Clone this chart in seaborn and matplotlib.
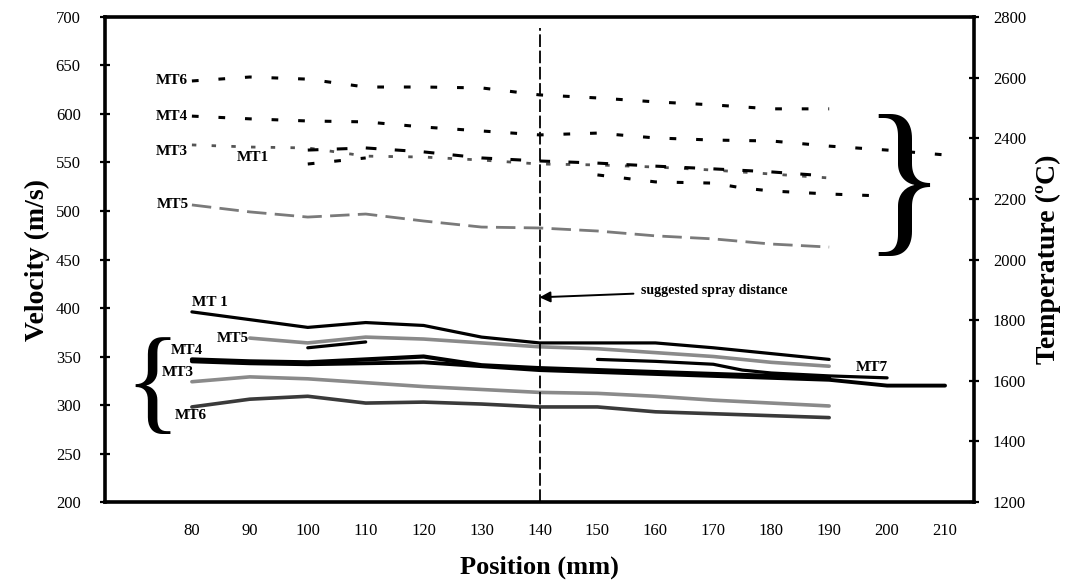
import numpy as np
import matplotlib
matplotlib.use("Agg")
import matplotlib.pyplot as plt
import seaborn as sns

# Measurement positions along the jet (mm)
pos = [80, 90, 100, 110, 120, 130, 140, 150, 160, 170, 180, 190]
pos_long = [80, 90, 100, 110, 120, 130, 140, 150, 160, 170, 180, 190, 200, 210]
pos_from90 = [90, 100, 110, 120, 130, 140, 150, 160, 170, 180, 190]
pos_from100 = [100, 110, 120, 130, 140, 150, 160, 170, 180, 190]
pos_short_a = [100, 110]
pos_short_b = [150, 160, 170, 175, 180, 190, 200]

# Particle velocity (m/s) - solid lines, left axis
mt1_vel = [396, 388, 380, 385, 382, 370, 364, 364, 364, 359, 353, 347]
mt5_vel = [369, 364, 370, 368, 364, 360, 358, 354, 350, 344, 340]
mt4_vel = [347, 345, 344, 347, 350, 341, 338, 336, 334, 332, 330, 328]
mt7_vel = [345, 343, 342, 343, 344, 340, 336, 334, 332, 330, 328, 326, 320, 320]
mt3_vel = [324, 329, 327, 323, 319, 316, 313, 312, 309, 305, 302, 299]
mt6_vel = [298, 306, 309, 302, 303, 301, 298, 298, 293, 291, 289, 287]
# unlabelled run with a gap between 110 and 150 mm
short_vel_a = [359, 365]
short_vel_b = [347, 345, 342, 336, 333, 330, 328]

# Particle temperature (oC) - dashed lines, right axis
mt6_temp = [2589, 2602, 2595, 2569, 2569, 2566, 2543, 2533, 2520, 2510, 2497, 2497]
mt4_temp = [2473, 2464, 2457, 2454, 2437, 2424, 2411, 2417, 2401, 2394, 2391, 2374, 2361, 2345]
mt3_temp = [2378, 2371, 2368, 2341, 2338, 2328, 2315, 2312, 2305, 2295, 2282, 2269]
mt1_temp = [2361, 2368, 2355, 2335, 2325, 2318, 2308, 2299, 2289, 2275]
mt5_temp = [2180, 2157, 2140, 2150, 2127, 2107, 2104, 2094, 2078, 2068, 2051, 2041]
short_temp_a = [2315, 2335]
short_temp_b = [2279, 2256, 2252, 2236, 2226, 2216, 2209]

# category style x axis: labels sit between tick marks
xtick_labels = [80, 90, 100, 110, 120, 130, 140, 150, 160, 170, 180, 190, 200, 210]
xtick_marks = [75, 85, 95, 105, 115, 125, 135, 145, 155, 165, 175, 185, 195, 205]
vel_ticks = [200, 250, 300, 350, 400, 450, 500, 550, 600, 650, 700]
temp_ticks = [1200, 1400, 1600, 1800, 2000, 2200, 2400, 2600, 2800]

spray_pos = 140

sns.set_style("white")
plt.rcParams['font.family'] = ['Liberation Serif', 'DejaVu Sans']
for k in ['text.color', 'axes.labelcolor', 'xtick.color', 'ytick.color']:
    plt.rcParams[k] = 'black'


def line(ax, x, y, **kw):
    sns.lineplot(x=x, y=y, ax=ax, estimator=None, sort=False, legend=False, **kw)


fig = plt.figure(figsize=(10.66, 5.84), dpi=100)
ax = fig.add_axes([0.0985, 0.1404, 0.8152, 0.8305])
ax2 = ax.twinx()

# velocity lines
grey = '#8a8a8a'
line(ax, pos, mt1_vel, color='black', lw=2.3)
line(ax, pos_from90, mt5_vel, color=grey, lw=2.6)
line(ax, pos, mt4_vel, color='black', lw=3.0)
line(ax, pos_long, mt7_vel, color='black', lw=2.8)
line(ax, pos_short_a, short_vel_a, color='black', lw=2.3)
line(ax, pos_short_b, short_vel_b, color='black', lw=2.3)
line(ax, pos, mt3_vel, color=grey, lw=2.6)
line(ax, pos, mt6_vel, color='#3a3a3a', lw=2.6)

# temperature lines
dots = (0, (2.2, 6.5))
line(ax2, pos, mt6_temp, color='black', lw=2.2, linestyle=dots)
line(ax2, pos_long, mt4_temp, color='black', lw=2.2, linestyle=dots)
line(ax2, pos, mt3_temp, color='#555555', lw=2.0, linestyle=(0, (1.6, 5.5)))
line(ax2, pos_from100, mt1_temp, color='black', lw=2.2, linestyle=(0, (3.5, 6)))
line(ax2, pos_short_a, short_temp_a, color='black', lw=2.2, linestyle=dots)
line(ax2, pos_short_b, short_temp_b, color='black', lw=2.2, linestyle=dots)
line(ax2, pos, mt5_temp, color='#7a7a7a', lw=2.0, linestyle=(0, (7, 3)))

# axes limits and ticks
ax.set_xlim(65, 215)
ax.set_ylim(200, 700)
ax2.set_ylim(1200, 2800)

ax.set_xticks(xtick_marks)
ax.set_xticklabels([])
ax.set_xticks(xtick_labels, minor=True)
ax.set_xticklabels([str(v) for v in xtick_labels], minor=True)
ax.tick_params(axis='x', which='major', direction='inout', length=9, width=1.6)
ax.tick_params(axis='x', which='minor', length=0, pad=15, labelsize=12)

ax.set_yticks(vel_ticks)
ax.tick_params(axis='y', direction='inout', length=7, width=1.6, pad=14, labelsize=12)
ax2.set_yticks(temp_ticks)
ax2.tick_params(axis='y', direction='inout', length=7, width=1.6, pad=10, labelsize=12)

for s in ['left', 'bottom', 'top']:
    ax.spines[s].set_linewidth(2.6)
    ax.spines[s].set_color('black')
ax.spines['right'].set_visible(False)
ax2.spines['right'].set_linewidth(2.6)
ax2.spines['right'].set_color('black')
for s in ['left', 'bottom', 'top']:
    ax2.spines[s].set_visible(False)

ax.set_xlabel("Position (mm)", fontsize=19, fontweight='bold', labelpad=12)
ax.set_ylabel("Velocity (m/s)", fontsize=20, fontweight='bold', labelpad=4)
ax2.set_ylabel("Temperature (\u00baC)", fontsize=20, fontweight='bold', labelpad=7)

# suggested spray distance
ax.axvline(spray_pos, ymin=0, ymax=0.977, color='black', lw=1.3, linestyle=(0, (7, 2)))
ax.annotate("suggested spray distance", xy=(spray_pos, 411), xytext=(157.5, 418),
            fontsize=10, fontweight='bold', ha='left', va='center',
            arrowprops=dict(arrowstyle='-|>', color='black', lw=1.4, mutation_scale=16,
                            shrinkA=3, shrinkB=0))

# series labels
lab = dict(fontsize=11, fontweight='bold', textcoords='offset points')
ax2.annotate("MT6", xy=(pos[0], mt6_temp[0]), xytext=(-3, 0), ha='right', va='center', **lab)
ax2.annotate("MT4", xy=(pos[0], mt4_temp[0]), xytext=(-3, 0), ha='right', va='center', **lab)
ax2.annotate("MT3", xy=(pos[0], mt3_temp[0]), xytext=(-3, -5), ha='right', va='center', **lab)
ax2.annotate("MT1", xy=(pos_from100[0], mt1_temp[0]), xytext=(-28, -5), ha='right', va='center', **lab)
ax2.annotate("MT5", xy=(pos[0], mt5_temp[0]), xytext=(-2, 0), ha='right', va='center', **lab)

ax.annotate("MT 1", xy=(pos[0], mt1_vel[0]), xytext=(0, 2), ha='left', va='bottom', **lab)
ax.annotate("MT5", xy=(pos_from90[0], mt5_vel[0]), xytext=(-1, 0), ha='right', va='center', **lab)
ax.annotate("MT4", xy=(pos[0], mt4_vel[0]), xytext=(-4, 6.5), ha='center', va='center', **lab)
ax.annotate("MT3", xy=(pos[0], mt3_vel[0]), xytext=(1, 6.5), ha='right', va='center', **lab)
ax.annotate("MT6", xy=(pos[0], mt6_vel[0]), xytext=(-1, -6), ha='center', va='center', **lab)
ax.annotate("MT7", xy=(pos_short_b[-1], short_vel_b[-1]), xytext=(-11, 7.5), ha='center', va='center', **lab)

# braces grouping the labels
ax.text(73.2, 315, "{", fontsize=84, ha='center', va='center')
ax2.text(202.8, 2222, "}", fontsize=124, ha='center', va='center')

fig.savefig("out.png", dpi=100)
